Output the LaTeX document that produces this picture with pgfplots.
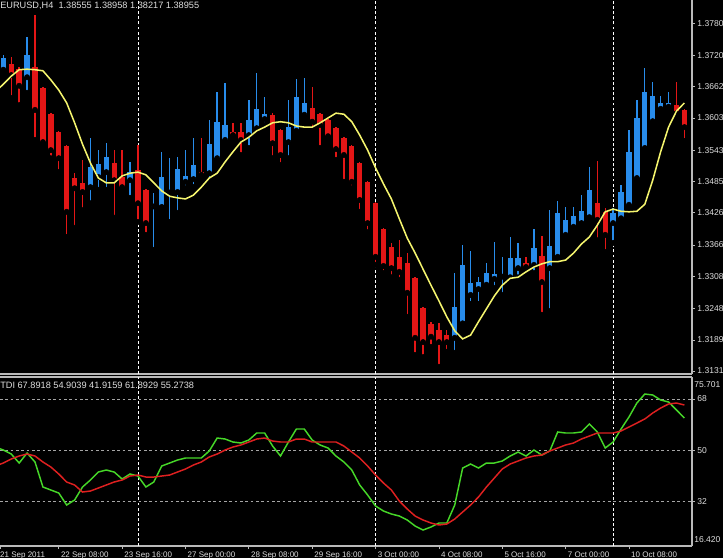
\documentclass[border=0pt]{standalone}
\usepackage{pgfplots}
\pgfplotsset{compat=1.18}
\usepackage{pgfplotstable}
\usepackage{fontspec}
\setmainfont{Liberation Sans}
\definecolor{bullc}{RGB}{40,140,235}
\definecolor{bearc}{RGB}{228,22,22}
\definecolor{mac}{RGB}{245,245,110}
\definecolor{tdig}{RGB}{70,215,40}
\definecolor{tdir}{RGB}{222,32,32}
\definecolor{axc}{RGB}{185,185,185}
\definecolor{txt}{RGB}{222,222,222}
\definecolor{gridc}{RGB}{165,165,165}
\newcommand\hdrfont{\fontsize{6.9pt}{8pt}\selectfont}
\newcommand\yfont{\fontsize{6.4pt}{7.5pt}\selectfont}
\newcommand\xfont{\fontsize{6pt}{7pt}\selectfont}

\pgfplotstableread{
i o h l c
0 1.3693 1.3720 1.3687 1.3715
3 1.3679 1.3754 1.3650 1.3720
11 1.3474 1.3566 1.3444 1.3512
12 1.3493 1.3543 1.3469 1.3517
13 1.3502 1.3556 1.3469 1.3530
16 1.3487 1.3521 1.3454 1.3502
19 1.3438 1.3463 1.3357 1.3439
20 1.3437 1.3540 1.3436 1.3493
21 1.3464 1.3528 1.3409 1.3465
22 1.3465 1.3530 1.3426 1.3508
23 1.3484 1.3543 1.3472 1.3495
24 1.3489 1.3566 1.3474 1.3515
26 1.3500 1.3599 1.3487 1.3554
27 1.3528 1.3651 1.3521 1.3596
28 1.3562 1.3668 1.3556 1.3590
31 1.3571 1.3637 1.3547 1.3599
32 1.3584 1.3687 1.3581 1.3620
33 1.3601 1.3642 1.3590 1.3610
36 1.3558 1.3637 1.3528 1.3586
37 1.3579 1.3676 1.3577 1.3642
38 1.3609 1.3677 1.3601 1.3631
57 1.3193 1.3314 1.3165 1.3251
58 1.3220 1.3366 1.3218 1.3329
59 1.3273 1.3355 1.3256 1.3295
60 1.3284 1.3306 1.3256 1.3297
61 1.3292 1.3333 1.3282 1.3314
62 1.3303 1.3372 1.3286 1.3312
63 1.3307 1.3344 1.3273 1.3308
64 1.3306 1.3381 1.3304 1.3342
65 1.3323 1.3370 1.3306 1.3342
67 1.3329 1.3396 1.3314 1.3361
69 1.3323 1.3431 1.3243 1.3364
70 1.3344 1.3448 1.3342 1.3426
71 1.3385 1.3437 1.3375 1.3413
72 1.3400 1.3437 1.3390 1.3420
73 1.3407 1.3459 1.3403 1.3429
74 1.3418 1.3512 1.3409 1.3469
77 1.3407 1.3435 1.3370 1.3426
78 1.3416 1.3478 1.3414 1.3465
79 1.3441 1.3581 1.3439 1.3540
80 1.3491 1.3637 1.3489 1.3603
81 1.3547 1.3696 1.3545 1.3651
82 1.3597 1.3670 1.3595 1.3644
83 1.3620 1.3644 1.3614 1.3631
84 1.3624 1.3651 1.3614 1.3631
}\bull

\pgfplotstableread{
i o h l c
1 1.3704 1.3717 1.3640 1.3683
2 1.3694 1.3698 1.3627 1.3663
4 1.3698 1.3795 1.3562 1.3618
5 1.3659 1.3661 1.3553 1.3558
6 1.3610 1.3612 1.3528 1.3543
7 1.3577 1.3579 1.3502 1.3528
8 1.3551 1.3553 1.3381 1.3428
9 1.3491 1.3500 1.3398 1.3472
10 1.3482 1.3525 1.3431 1.3465
14 1.3519 1.3543 1.3417 1.3487
15 1.3493 1.3543 1.3469 1.3474
17 1.3506 1.3553 1.3409 1.3444
18 1.3469 1.3471 1.3385 1.3407
25 1.3502 1.3566 1.3487 1.3497
29 1.3577 1.3594 1.3562 1.3571
30 1.3577 1.3594 1.3534 1.3562
34 1.3609 1.3612 1.3528 1.3556
35 1.3581 1.3583 1.3515 1.3534
39 1.3622 1.3661 1.3581 1.3596
40 1.3610 1.3612 1.3547 1.3590
41 1.3599 1.3601 1.3562 1.3569
42 1.3584 1.3586 1.3525 1.3545
43 1.3566 1.3568 1.3484 1.3534
44 1.3551 1.3553 1.3472 1.3484
45 1.3519 1.3521 1.3428 1.3450
46 1.3484 1.3486 1.3390 1.3407
47 1.3444 1.3446 1.3329 1.3344
48 1.3396 1.3398 1.3314 1.3327
49 1.3362 1.3370 1.3306 1.3323
50 1.3344 1.3375 1.3301 1.3316
51 1.3333 1.3351 1.3232 1.3277
52 1.3305 1.3307 1.3161 1.3193
53 1.3249 1.3251 1.3157 1.3185
54 1.3219 1.3222 1.3176 1.3195
55 1.3208 1.3221 1.3139 1.3185
56 1.3198 1.3208 1.3167 1.3185
66 1.3333 1.3344 1.3319 1.3325
68 1.3345 1.3383 1.3236 1.3297
75 1.3444 1.3523 1.3375 1.3413
76 1.3428 1.3435 1.3353 1.3385
85 1.3627 1.3670 1.3605 1.3612
86 1.3618 1.3620 1.3560 1.3586
}\bear

\pgfplotstableread{
i ma
-1 1.3652
0 1.3666
1 1.3681
2 1.3693
3 1.3694
4 1.3693
5 1.3691
6 1.3674
7 1.3655
8 1.3631
9 1.3594
10 1.3554
11 1.3519
12 1.3491
13 1.3482
14 1.3482
15 1.3495
16 1.3500
17 1.3502
18 1.3497
19 1.3482
20 1.3467
21 1.3457
22 1.3454
23 1.3452
24 1.3459
25 1.3474
26 1.3491
27 1.3500
28 1.3521
29 1.3540
30 1.3558
31 1.3567
32 1.3579
33 1.3586
34 1.3594
35 1.3596
36 1.3594
37 1.3588
38 1.3586
39 1.3586
40 1.3594
41 1.3603
42 1.3612
43 1.3610
44 1.3596
45 1.3571
46 1.3543
47 1.3510
48 1.3480
49 1.3452
50 1.3415
51 1.3379
52 1.3351
53 1.3321
54 1.3291
55 1.3262
56 1.3232
57 1.3206
58 1.3191
59 1.3198
60 1.3223
61 1.3247
62 1.3271
63 1.3291
64 1.3304
65 1.3306
66 1.3316
67 1.3325
68 1.3331
69 1.3335
70 1.3335
71 1.3338
72 1.3351
73 1.3368
74 1.3381
75 1.3403
76 1.3428
77 1.3433
78 1.3429
79 1.3428
80 1.3429
81 1.3442
82 1.3487
83 1.3540
84 1.3586
85 1.3616
86 1.3631
}\matab

\pgfplotstableread{
i g r
-1 51.15 44.48
0 50.09 45.53
1 48.69 46.94
2 45.53 47.99
3 49.04 48.69
4 45.89 47.99
5 37.12 45.89
6 36.06 44.13
7 35.01 41.68
8 30.80 38.87
9 32.55 37.82
10 37.12 35.36
11 39.57 35.71
12 42.38 36.76
13 43.08 37.82
14 42.38 38.87
15 39.92 39.57
16 41.68 40.97
17 40.97 41.32
18 37.12 40.62
19 38.87 40.62
20 44.48 40.97
21 45.53 41.32
22 46.59 42.38
23 47.29 43.43
24 47.29 44.83
25 47.29 45.89
26 49.74 47.64
27 54.30 48.69
28 53.95 50.09
29 52.90 51.15
30 52.55 51.85
31 53.60 52.90
32 56.06 53.95
33 56.06 54.30
34 51.50 53.25
35 47.99 52.90
36 52.90 52.90
37 57.46 53.95
38 57.46 53.95
39 53.60 52.90
40 51.85 52.90
41 50.80 52.90
42 47.99 52.90
43 45.89 51.50
44 43.08 49.39
45 37.82 47.29
46 34.31 44.48
47 30.45 41.32
48 28.70 38.52
49 27.64 36.06
50 26.94 32.20
51 25.54 29.40
52 23.43 26.94
53 22.03 25.54
54 23.08 24.49
55 24.49 23.79
56 24.49 24.14
57 30.80 25.89
58 43.78 28.35
59 45.18 30.80
60 43.78 33.61
61 45.53 37.12
62 45.53 40.27
63 46.24 43.43
64 47.99 45.18
65 49.39 46.24
66 47.99 47.29
67 50.09 47.99
68 48.34 48.34
69 49.74 49.74
70 56.41 50.80
71 56.06 51.85
72 56.06 52.55
73 56.41 53.95
74 59.21 55.00
75 56.41 56.06
76 50.80 56.06
77 52.90 56.06
78 57.46 56.76
79 61.67 58.16
80 66.58 59.57
81 69.74 60.97
82 69.39 63.07
83 67.63 64.83
84 66.93 66.23
85 64.13 66.58
86 61.32 65.88
}\tdi

\pgfplotsset{
  chartbase/.style={
    scale only axis, width=519pt,
    xmin=-0.42, xmax=86.96,
    axis background/.style={fill=black},
    axis line style={axc, line width=0.8pt, -},
    tick style={axc, line width=0.6pt},
    tick align=outside, major tick length=2.4pt,
    yticklabel pos=right,
    yticklabel style={font=\yfont, text=txt, inner sep=1.5pt},
    extra x ticks={17,47,77},
    extra x tick labels={},
    extra x tick style={grid=major, major tick length=0pt,
      major grid style={white, line width=0.6pt, dash pattern=on 2.2pt off 1.6pt}},
  }
}

\begin{document}
\begin{tikzpicture}
\fill[black] (0,0) rectangle (542.25pt,-418.5pt);
\useasboundingbox (0,0) rectangle (542.25pt,-418.5pt);

% ---------- price panel: candles ----------
\begin{axis}[chartbase,
  at={(0pt,0pt)}, anchor=north west, height=280.5pt,
  ymin=1.31255, ymax=1.3823,
  axis x line*=bottom, axis y line*=right,
  xtick=\empty,
  ytick={1.3131,1.3189,1.3248,1.3308,1.3366,1.3426,1.3485,1.3543,1.3603,1.3662,1.3720,1.3780},
  yticklabels={1.3131,1.3189,1.3248,1.3308,1.3366,1.3426,1.3485,1.3543,1.3603,1.3662,1.3720,1.3780},
]
% wicks
\addplot[only marks, mark=none, error bars/.cd, y dir=plus, y explicit, error mark=none,
  error bar style={color=bullc, line width=1pt}]
  table[x=i, y=l, y error plus expr=\thisrow{h}-\thisrow{l}] {\bull};
\addplot[only marks, mark=none, error bars/.cd, y dir=plus, y explicit, error mark=none,
  error bar style={color=bearc, line width=1pt}]
  table[x=i, y=l, y error plus expr=\thisrow{h}-\thisrow{l}] {\bear};
% bodies
\addplot[only marks, mark=none, error bars/.cd, y dir=plus, y explicit, error mark=none,
  error bar style={color=bullc, line width=4pt}]
  table[x=i, y=o, y error plus expr={max(\thisrow{c}-\thisrow{o},0.00012)}] {\bull};
\addplot[only marks, mark=none, error bars/.cd, y dir=plus, y explicit, error mark=none,
  error bar style={color=bearc, line width=4pt}]
  table[x=i, y=c, y error plus expr={max(\thisrow{o}-\thisrow{c},0.00012)}] {\bear};
\node[anchor=north west, inner sep=0pt, font=\hdrfont, text=txt, yshift=-1pt]
  at (rel axis cs:0,1) {EURUSD,H4\ \ 1.38555 1.38958 1.38217 1.38955};
\end{axis}

% ---------- price panel: moving average, overlaid on top ----------
\begin{axis}[
  at={(0pt,0pt)}, anchor=north west, scale only axis, width=519pt, height=280.5pt,
  xmin=-0.42, xmax=86.96, ymin=1.31255, ymax=1.3823, hide axis,
]
\addplot[mac, line width=1.15pt, mark=none] table[x=i, y=ma] {\matab};
\end{axis}

% ---------- TDI panel ----------
\begin{axis}[chartbase,
  at={(0pt,-282.75pt)}, anchor=north west, height=126.75pt,
  ymin=16.42, ymax=75.701,
  axis x line=box, axis y line*=right, xtick pos=left,
  ytick={32,50,68}, yticklabels={32,50,68},
  ymajorgrids=true,
  major grid style={gridc, line width=0.5pt, dash pattern=on 2pt off 2pt},
  extra y ticks={72.9,18.52}, extra y tick labels={75.701,16.420},
  extra y tick style={grid=none, major tick length=0pt},
  xtick={-0.41,7,15,23,31,39,47,55,63,71,79},
  xticklabels={\hspace*{-1.6pt}21 Sep 2011,22 Sep 08:00,23 Sep 16:00,27 Sep 00:00,28 Sep 08:00,29 Sep 16:00,3 Oct 00:00,4 Oct 08:00,5 Oct 16:00,7 Oct 00:00,10 Oct 08:00},
  xticklabel style={font=\xfont, text=txt, anchor=north west, inner sep=1.5pt, yshift=-0.5pt},
]
\addplot[tdig, line width=1.1pt, mark=none] table[x=i, y=g] {\tdi};
\addplot[tdir, line width=1.1pt, mark=none] table[x=i, y=r] {\tdi};
\node[anchor=north west, inner sep=0pt, font=\hdrfont, text=txt, yshift=-3.5pt]
  at (rel axis cs:0,1) {TDI 67.8918 54.9039 41.9159 61.8929 55.2738};
\end{axis}
\end{tikzpicture}
\end{document}
